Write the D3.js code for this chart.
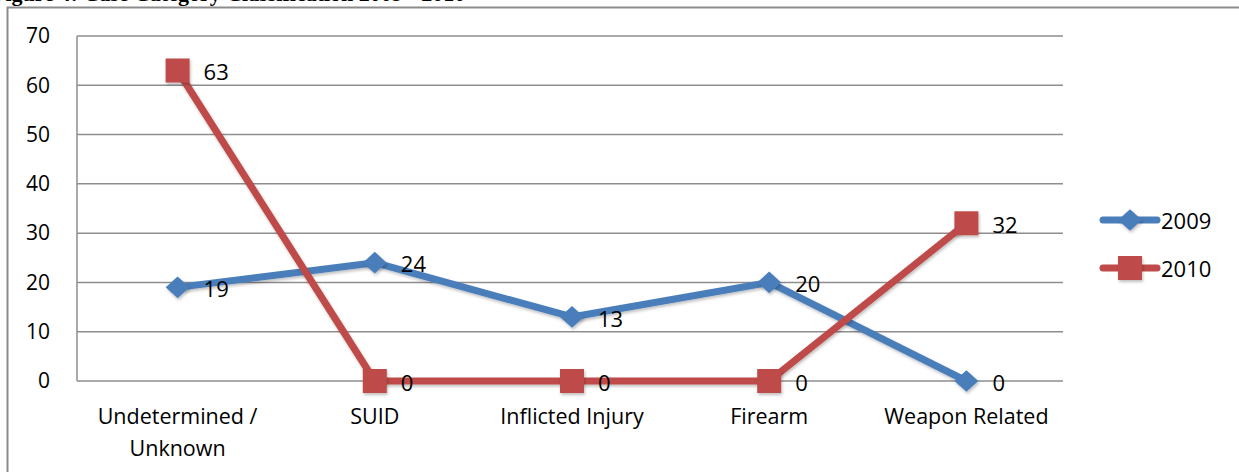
<!DOCTYPE html>
<html>
<head>
<meta charset="utf-8">
<script src="https://cdn.jsdelivr.net/npm/d3@7"></script>
<style>
  body { margin: 0; background: #fff; }
  svg { display: block; }
  text { font-family: "Open Sans", "Noto Sans", sans-serif; fill: #000; }
</style>
</head>
<body>
<svg width="1239" height="472"></svg>
<script>
const categories = ["Undetermined / Unknown", "SUID", "Inflicted Injury", "Firearm", "Weapon Related"];
const values2009 = [19, 24, 13, 20, 0];
const values2010 = [63, 0, 0, 0, 32];
const yTicks = [0, 10, 20, 30, 40, 50, 60, 70];
const seriesNames = ["2009", "2010"];
const colors = ["#4a7ebb", "#be4b48"];

const svg = d3.select("svg"),
    width = 1239,
    height = 472;

// page frame, runs off the right and bottom edges
svg.append("rect")
    .attr("x", 7.5).attr("y", 7.5)
    .attr("width", 1260).attr("height", 500)
    .attr("fill", "none")
    .attr("stroke", "#8c8c8c")
    .attr("stroke-width", 2);

// caption above, mostly cut off by the crop (as in the source)
svg.append("text")
    .attr("x", -8).attr("y", 1)
    .style("font-family", "'Liberation Serif', serif")
    .style("font-weight", "bold")
    .style("font-size", "22px")
    .text("Figure 4: Case Category Classification 2009 - 2010");

const plot = { left: 77, right: 1063, top: 36, bottom: 381 };

const x = d3.scaleBand()
    .domain(categories)
    .range([plot.left, plot.right]);

const y = d3.scaleLinear()
    .domain([0, 70])
    .range([plot.bottom, plot.top]);

const cx = function(c) { return x(c) + x.bandwidth() / 2 + 2; };

// gridlines
svg.append("g")
    .selectAll("line")
    .data(yTicks)
    .enter().append("line")
    .attr("x1", plot.left).attr("x2", plot.right)
    .attr("y1", function(d) { return y(d); })
    .attr("y2", function(d) { return y(d); })
    .attr("stroke", "#8e8e8e")
    .attr("stroke-width", 1.5);

// y axis line
svg.append("line")
    .attr("x1", plot.left).attr("x2", plot.left)
    .attr("y1", plot.top).attr("y2", plot.bottom)
    .attr("stroke", "#8e8e8e")
    .attr("stroke-width", 1.5);

// y tick labels
svg.append("g")
    .selectAll("text")
    .data(yTicks)
    .enter().append("text")
    .attr("x", 50)
    .attr("y", function(d) { return y(d); })
    .attr("dy", "0.35em")
    .attr("text-anchor", "end")
    .style("font-size", "21px")
    .text(function(d) { return d; });

// x category labels, wrapped on the slash
svg.append("g")
    .selectAll("text")
    .data(categories)
    .enter().append("text")
    .attr("x", function(d) { return cx(d); })
    .attr("y", 424)
    .attr("text-anchor", "middle")
    .style("font-size", "21.5px")
    .each(function(d) {
        const parts = d.indexOf(" / ") > 0 ? [d.split(" / ")[0] + " /", d.split(" / ")[1]] : [d];
        const t = d3.select(this);
        parts.forEach(function(p, i) {
            t.append("tspan")
                .attr("x", cx(d))
                .attr("dy", i === 0 ? 0 : 32)
                .text(p);
        });
    });

const defs = svg.append("defs");
const shadow = defs.append("filter").attr("id", "shadow")
    .attr("x", "-50%").attr("y", "-50%").attr("width", "200%").attr("height", "200%");
shadow.append("feDropShadow")
    .attr("dx", 1).attr("dy", 2).attr("stdDeviation", 1.5)
    .attr("flood-color", "#000").attr("flood-opacity", 0.25);

const line = d3.line()
    .x(function(d) { return cx(d.cat); })
    .y(function(d) { return y(d.v); });

const series = [values2009, values2010].map(function(vals, i) {
    return {
        name: seriesNames[i],
        color: colors[i],
        points: vals.map(function(v, j) { return { cat: categories[j], v: v }; })
    };
});

function drawMarker(g, s, px, py) {
    if (s.name === "2009") {
        g.append("path")
            .attr("d", d3.symbol().type(d3.symbolDiamond2).size(300)())
            .attr("transform", "translate(" + px + "," + py + ") scale(1.1,1)")
            .attr("fill", s.color)
            .attr("filter", "url(#shadow)");
    } else {
        g.append("rect")
            .attr("x", px - 12).attr("y", py - 12)
            .attr("width", 24).attr("height", 24)
            .attr("fill", s.color)
            .attr("filter", "url(#shadow)");
    }
}

series.forEach(function(s) {
    const g = svg.append("g");
    g.append("path")
        .datum(s.points)
        .attr("d", line)
        .attr("fill", "none")
        .attr("stroke", s.color)
        .attr("stroke-width", 7)
        .attr("stroke-linejoin", "round")
        .attr("filter", "url(#shadow)");
    s.points.forEach(function(p) {
        drawMarker(g, s, cx(p.cat), y(p.v));
    });
});

// data labels on top
series.forEach(function(s) {
    svg.append("g")
        .selectAll("text")
        .data(s.points)
        .enter().append("text")
        .attr("x", function(d) { return cx(d.cat) + 26; })
        .attr("y", function(d) { return y(d.v) + 2; })
        .attr("dy", "0.35em")
        .style("font-size", "22px")
        .text(function(d) { return d.v; });
});

// legend
const legend = svg.append("g");
series.forEach(function(s, i) {
    const ly = 220 + i * 48;
    legend.append("line")
        .attr("x1", 1103).attr("x2", 1157)
        .attr("y1", ly).attr("y2", ly)
        .attr("stroke", s.color)
        .attr("stroke-width", 7)
        .attr("stroke-linecap", "round");
    drawMarker(legend, s, 1130, ly);
    legend.append("text")
        .attr("x", 1161).attr("y", ly + 1)
        .attr("dy", "0.35em")
        .style("font-size", "22px")
        .text(s.name);
});
</script>
</body>
</html>
